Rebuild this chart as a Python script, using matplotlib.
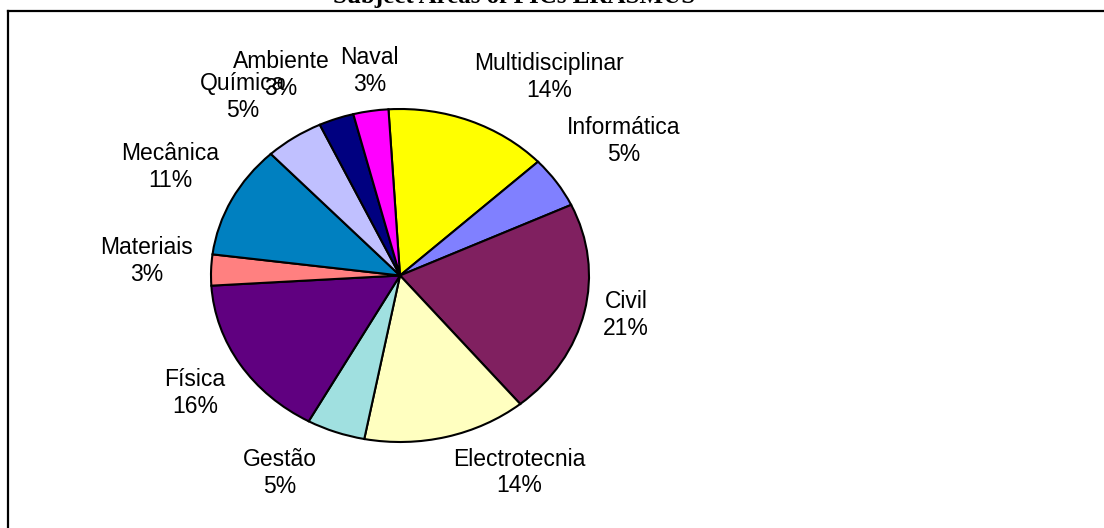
import numpy as np
import matplotlib
matplotlib.use("Agg")
import matplotlib.pyplot as plt
from matplotlib.lines import Line2D

# ---- data ----
categories = ["Multidisciplinar", "Informática", "Civil", "Electrotecnia", "Gestão",
              "Física", "Materiais", "Mecânica", "Química", "Ambiente", "Naval"]
shares = [14, 5, 21, 14, 5, 16, 3, 11, 5, 3, 3]
title = "Subject Areas of PICs ERASMUS"

# ---- styles ----
colors = ["#FFFF00", "#8080FF", "#802060", "#FFFFC0", "#A0E0E0",
          "#600080", "#FF8080", "#0080C0", "#C0C0FF", "#000080", "#FF00FF"]
# label placement relative to each wedge (angle nudge in degrees, radial factor)
label_dtheta = [-11.9, 0.1, 1.5, 13.7, -8.3, 0.8, -1.8, -1.1, 3.8, 7.9, -1.5]
label_r = [1.428, 1.433, 1.219, 1.340, 1.345, 1.294, 1.342, 1.381, 1.359, 1.359, 1.238]

W, H = 1104, 528
fig = plt.figure(figsize=(W / 100, H / 100), dpi=100)

# border (top and left visible)
fig.add_artist(Line2D([8 / W, 1.0], [1 - 11 / H, 1 - 11 / H], color="black", lw=1.6,
                      transform=fig.transFigure))
fig.add_artist(Line2D([8 / W, 8 / W], [1 - 11 / H, 0.0], color="black", lw=1.6,
                      transform=fig.transFigure))

fig.text(514 / W, 1 - 3 / H, title, ha="center", va="baseline",
         fontsize=18, fontweight="bold", family="Liberation Serif")

# elliptical pie: axes box sized to the ellipse
left, right, top, bottom = 211, 589, 109, 442
ax = fig.add_axes([left / W, 1 - bottom / H, (right - left) / W, (bottom - top) / H])
wedges, _ = ax.pie(shares, colors=colors, startangle=93.5, counterclock=False,
                   radius=1.0, center=(0, 0), frame=False,
                   wedgeprops=dict(edgecolor="black", linewidth=1.5))
ax.set_aspect("auto")
ax.set_xlim(-1, 1)
ax.set_ylim(-1, 1)
ax.axis("off")

total = sum(shares)
for w, cat, val, dth, r in zip(wedges, categories, shares, label_dtheta, label_r):
    mid = np.deg2rad((w.theta1 + w.theta2) / 2 + dth)
    pct = round(100 * val / total)
    ax.text(r * np.cos(mid), r * np.sin(mid), f"{cat}\n{pct}%", ha="center", va="center",
            multialignment="center", fontsize=16.5, family="Liberation Sans",
            linespacing=1.22, clip_on=False)

fig.savefig("out.png", dpi=100)
